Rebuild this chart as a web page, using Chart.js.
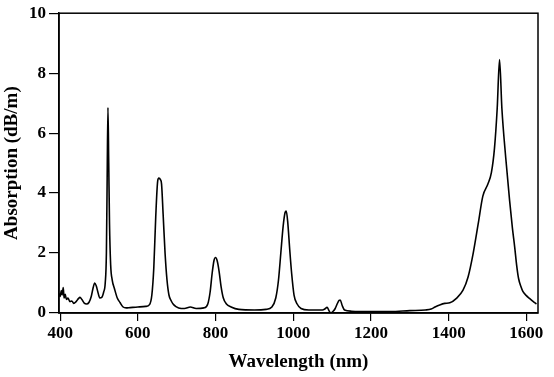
<!DOCTYPE html>
<html>
<head>
<meta charset="utf-8">
<script src="https://cdn.jsdelivr.net/npm/chart.js@4/dist/chart.umd.min.js"></script>
<style>
  html, body { margin: 0; padding: 0; background: #fff; }
  #wrap { width: 554px; height: 377px; }
</style>
</head>
<body>
<div id="wrap"><canvas id="chart"></canvas></div>
<script>
// wavelength (nm) and absorption (dB/m)
const wavelength = [396, 400, 403, 405, 408, 410, 413, 416, 420, 425, 430, 435, 441, 447, 451, 456, 462, 468, 474, 480,
  485, 489, 493, 497, 502, 507, 512, 516, 519, 521, 523, 525, 527, 530, 534, 540, 547, 554, 562, 570,
  580, 600, 620, 630, 636, 641, 646, 651, 654, 658, 661, 665, 670, 675, 680, 686, 692, 705, 720, 735,
  750, 770, 780, 786, 791, 796, 800, 804, 809, 814, 820, 828, 840, 860, 900, 930, 945, 955, 962, 968,
  974, 979, 982, 986, 991, 996, 1002, 1010, 1020, 1040, 1075, 1082, 1087, 1092, 1096, 1102, 1108, 1113, 1118, 1121,
  1126, 1132, 1150, 1200, 1250, 1300, 1340, 1355, 1365, 1377, 1390, 1403, 1420, 1437, 1450, 1463, 1476, 1488, 1501, 1510,
  1518, 1525, 1531, 1537, 1547, 1557, 1564, 1570, 1575, 1580, 1586, 1591, 1600, 1608, 1618, 1626];
const absorption = [0.66, 0.55, 0.75, 0.6, 0.85, 0.5, 0.62, 0.45, 0.5, 0.38, 0.4, 0.32, 0.38, 0.48, 0.52, 0.45, 0.33, 0.3, 0.35, 0.55,
  0.85, 1.0, 0.9, 0.7, 0.5, 0.52, 0.7, 1.0, 2.0, 4.5, 6.85, 5.0, 3.0, 1.6, 1.1, 0.8, 0.5, 0.35, 0.2, 0.17,
  0.18, 0.2, 0.22, 0.28, 0.6, 1.5, 3.2, 4.4, 4.5, 4.45, 4.3, 3.3, 2.0, 1.1, 0.6, 0.4, 0.28, 0.17, 0.15, 0.2,
  0.15, 0.17, 0.3, 0.7, 1.3, 1.75, 1.85, 1.75, 1.4, 0.9, 0.5, 0.3, 0.2, 0.12, 0.1, 0.12, 0.2, 0.5, 1.1, 2.0,
  2.9, 3.35, 3.4, 3.0, 2.1, 1.3, 0.6, 0.3, 0.15, 0.1, 0.1, 0.14, 0.19, 0.08, 0.0, 0.05, 0.15, 0.3, 0.42, 0.43,
  0.25, 0.1, 0.06, 0.05, 0.05, 0.08, 0.1, 0.13, 0.2, 0.27, 0.32, 0.34, 0.49, 0.76, 1.2, 1.98, 2.97, 3.9, 4.3, 4.68,
  5.5, 6.83, 8.45, 6.83, 5.17, 3.74, 2.85, 2.2, 1.6, 1.15, 0.88, 0.72, 0.58, 0.49, 0.38, 0.3];
const xTicks = [400, 600, 800, 1000, 1200, 1400, 1600];
const yTicks = [0, 2, 4, 6, 8, 10];

const serif = '"Liberation Serif", "DejaVu Serif", serif';

// frame round the plot area (top and right sides)
const frame = {
  id: 'frame',
  afterDraw(chart) {
    const { ctx, chartArea: a } = chart;
    ctx.save();
    ctx.strokeStyle = '#000';
    ctx.lineWidth = 1.5;
    ctx.strokeRect(a.left, a.top, a.right - a.left, a.bottom - a.top);
    ctx.restore();
  }
};

new Chart(document.getElementById('chart'), {
  type: 'line',
  data: {
    datasets: [{
      data: wavelength.map((w, i) => ({ x: w, y: absorption[i] })),
      borderColor: '#000',
      borderWidth: 1.6,
      pointRadius: 0,
      cubicInterpolationMode: 'monotone',
      fill: false
    }]
  },
  options: {
    responsive: true,
    maintainAspectRatio: false,
    animation: false,
    layout: { padding: { top: 11, right: 16, left: 0, bottom: 0 } },
    plugins: { legend: { display: false }, tooltip: { enabled: false } },
    scales: {
      x: {
        type: 'linear',
        min: 397,
        max: 1630,
        afterBuildTicks: s => { s.ticks = xTicks.map(v => ({ value: v })); },
        afterFit: s => { s.height = 64; },
        grid: { display: true, drawOnChartArea: false, drawTicks: true, tickLength: 8, color: '#000', lineWidth: 1.2 },
        border: { display: true, color: '#000', width: 1.5 },
        ticks: { color: '#000', padding: 2, maxRotation: 0, callback: v => String(v),
          font: { family: serif, size: 17, weight: 'bold' } },
        title: { display: true, text: 'Wavelength (nm)', color: '#000', padding: { top: 0, bottom: 4 },
          font: { family: serif, size: 19, weight: 'bold' } }
      },
      y: {
        min: 0,
        max: 10,
        afterBuildTicks: s => { s.ticks = yTicks.map(v => ({ value: v })); },
        afterFit: s => { s.width = 59; },
        grid: { display: true, drawOnChartArea: false, drawTicks: true, tickLength: 10, color: '#000', lineWidth: 1.2 },
        border: { display: true, color: '#000', width: 1.5 },
        ticks: { color: '#000', padding: 3, callback: v => String(v),
          font: { family: serif, size: 17, weight: 'bold' } },
        title: { display: true, text: 'Absorption (dB/m)', color: '#000', padding: { top: 1, bottom: 0 },
          font: { family: serif, size: 19, weight: 'bold' } }
      }
    }
  },
  plugins: [frame]
});
</script>
</body>
</html>
